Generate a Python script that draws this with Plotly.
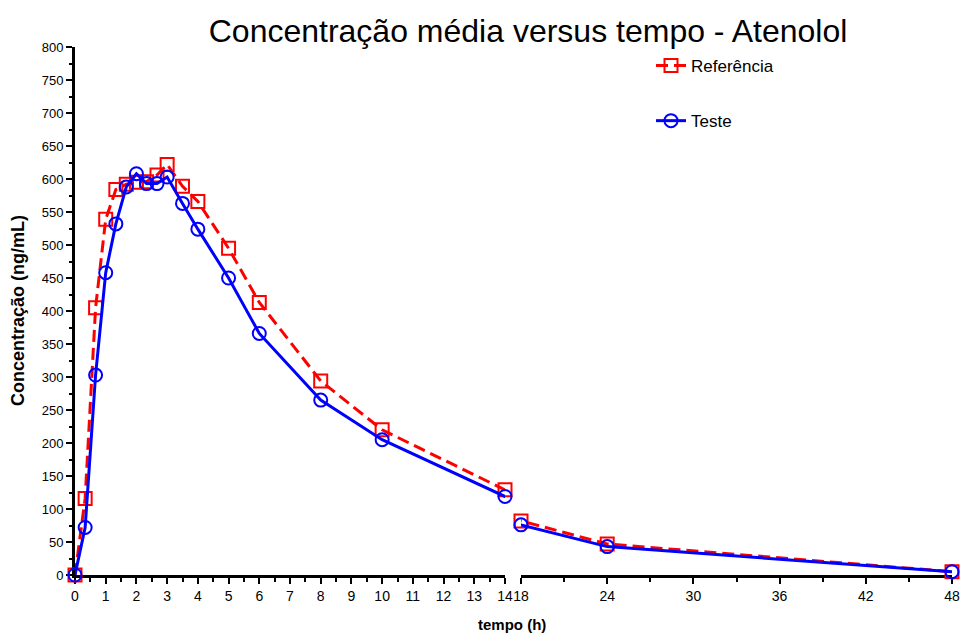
import plotly.graph_objects as go

# Data
tempo = [0, 0.33, 0.67, 1, 1.33, 1.67, 2, 2.33, 2.67, 3, 3.5, 4, 5, 6, 8, 10, 14, 18, 24, 48]
referencia = [0, 116, 405, 539, 584, 592, 595, 596, 606, 622, 589, 566, 495, 413, 294, 220, 129, 82, 47, 5]
teste = [0, 72, 303, 458, 532, 588, 608, 593, 593, 603, 563, 524, 450, 366, 265, 205, 119, 76, 43, 5]

break_lo = 14
break_hi = 18
left_ticks = list(range(0, 15))
right_ticks = [18, 24, 30, 36, 42, 48]

FONT = "Liberation Sans, Arial, sans-serif"
RED = "#ff0000"
BLUE = "#0000ff"

series = [
    ("Referência", referencia, RED, "square-open", "12px,6px", 13),
    ("Teste", teste, BLUE, "circle-open", "solid", 13),
]

fig = go.Figure()

# legend entries
for name, vals, col, sym, dash, msz in series:
    fig.add_trace(go.Scatter(
        x=[None], y=[None], name=name, mode="lines+markers",
        line=dict(color=col, width=3, dash=dash),
        marker=dict(symbol=sym, size=msz, color=col, line=dict(width=2, color=col)),
        legendgroup=name, showlegend=True, xaxis="x", yaxis="y"))

for name, vals, col, sym, dash, msz in series:
    li = [i for i, t in enumerate(tempo) if t <= break_lo]
    ri = [i for i, t in enumerate(tempo) if t >= break_hi]
    left_line_idx = li + [ri[0]]
    right_line_idx = [li[-1]] + ri
    fig.add_trace(go.Scatter(
        x=[tempo[i] for i in left_line_idx], y=[vals[i] for i in left_line_idx],
        mode="lines", line=dict(color=col, width=3, dash=dash),
        showlegend=False, xaxis="x", yaxis="y", cliponaxis=True, hoverinfo="skip"))
    fig.add_trace(go.Scatter(
        x=[tempo[i] for i in right_line_idx], y=[vals[i] for i in right_line_idx],
        mode="lines", line=dict(color=col, width=3, dash=dash),
        showlegend=False, xaxis="x2", yaxis="y", cliponaxis=True, hoverinfo="skip"))
    fig.add_trace(go.Scatter(
        x=[tempo[i] for i in li], y=[vals[i] for i in li], mode="markers",
        marker=dict(symbol=sym, size=msz, color=col, line=dict(width=2, color=col)),
        showlegend=False, xaxis="x", yaxis="y", cliponaxis=False, name=name))
    fig.add_trace(go.Scatter(
        x=[tempo[i] for i in ri], y=[vals[i] for i in ri], mode="markers",
        marker=dict(symbol=sym, size=msz, color=col, line=dict(width=2, color=col)),
        showlegend=False, xaxis="x2", yaxis="y", cliponaxis=False, name=name))

axis_common = dict(
    showgrid=False, zeroline=False, showline=True, linecolor="black", linewidth=3,
    ticks="outside", ticklen=6, tickwidth=2, tickcolor="black", automargin=False,
    tickfont=dict(family=FONT, size=14, color="black"), layer="below traces",
)

W, H = 961, 633
L, R, T, B = 75, 9, 47, 58
pw = W - L - R
ph = H - T - B
d_left_end = (505 - L) / pw
d_right_start = (521 - L) / pw

fig.update_layout(
    width=W, height=H,
    margin=dict(l=L, r=R, t=T, b=B, autoexpand=False),
    paper_bgcolor="white", plot_bgcolor="white",
    font=dict(family=FONT, color="black"),
    title=dict(text="Concentração média versus tempo - Atenolol",
               font=dict(family=FONT, size=32, color="black"),
               x=(528) / W, xanchor="center", y=1 - 31 / H, yanchor="middle"),
    xaxis=dict(domain=[0, d_left_end], range=[0, break_lo], tickvals=left_ticks,
               minor=dict(dtick=0.5, ticklen=4, tickwidth=2, ticks="outside", tickcolor="black"),
               anchor="y", **axis_common),
    xaxis2=dict(domain=[d_right_start, 1], range=[break_hi, 48], tickvals=right_ticks,
                minor=dict(tick0=18, dtick=3, ticklen=4, tickwidth=2, ticks="outside", tickcolor="black"),
                anchor="y", **axis_common),
    yaxis=dict(range=[0, 800], dtick=50, anchor="x",
               minor=dict(dtick=25, ticklen=3, tickwidth=2, ticks="outside", tickcolor="black"),
               **axis_common),
    legend=dict(x=(651 - L) / pw, y=1 - (48 - T) / ph, xanchor="left", yanchor="top",
                font=dict(family=FONT, size=17, color="black"),
                bgcolor="rgba(0,0,0,0)", tracegroupgap=30, itemwidth=30),
    annotations=[
        dict(text="<b>tempo (h)</b>", xref="paper", yref="paper",
             x=(512 - L) / pw, y=-(624 - (H - B)) / ph,
             showarrow=False, xanchor="center", yanchor="middle",
             font=dict(family=FONT, size=15, color="black")),
        dict(text="<b>Concentração (ng/mL)</b>", xref="paper", yref="paper",
             x=-(L - 18) / pw, y=((H - B) - 311) / ph, textangle=-90,
             showarrow=False, xanchor="center", yanchor="middle",
             font=dict(family=FONT, size=18, color="black")),
    ],
)
fig.update_layout(yaxis_tickfont_size=13)

fig.write_html("out.html")
